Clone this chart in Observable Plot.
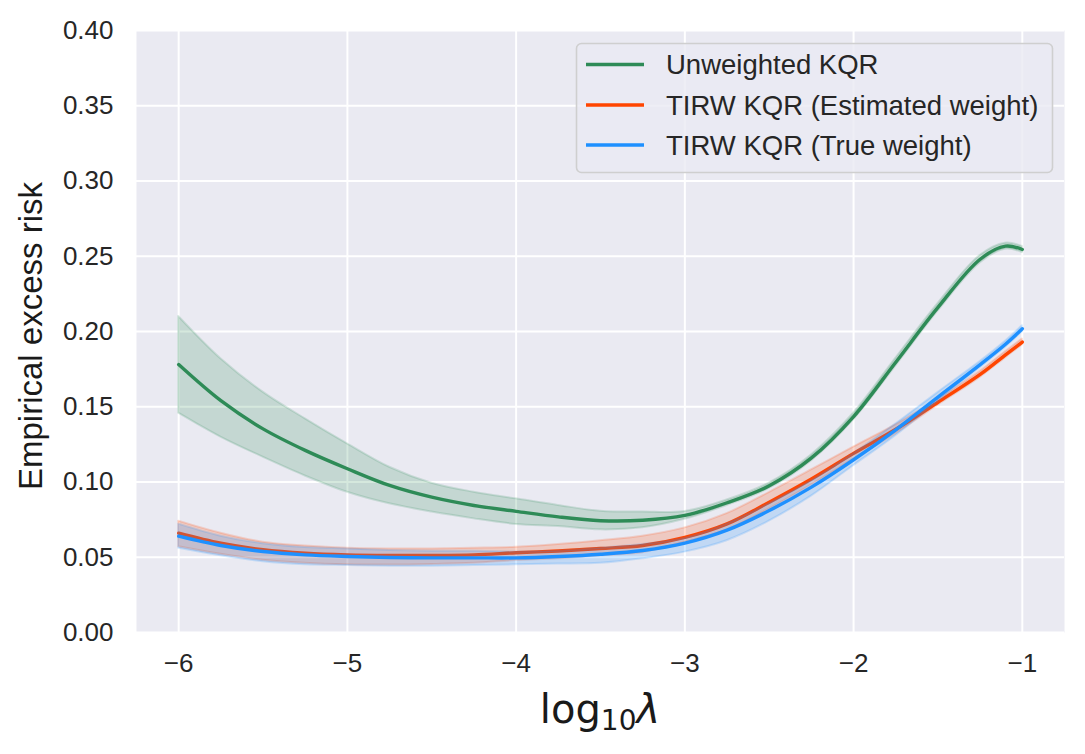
<!DOCTYPE html>
<html>
<head>
<meta charset="utf-8">
<script src="https://cdn.jsdelivr.net/npm/d3@7"></script>
<script src="https://cdn.jsdelivr.net/npm/@observablehq/plot@0.6"></script>
<style>
  html, body { margin: 0; padding: 0; background: #ffffff; }
  #chart { width: 1085px; height: 754px; }
</style>
</head>
<body>
<div id="chart"></div>
<script>
// ---- data ----
const lambdas = [-6, -5.75, -5.5, -5.25, -5, -4.75, -4.5, -4.25, -4, -3.75, -3.5, -3.25, -3, -2.75, -2.5, -2.25, -2, -1.75, -1.5, -1.25, -1.1, -1];

const unweightedMean  = [0.178, 0.154, 0.1353, 0.121, 0.1088, 0.0977, 0.0899, 0.0844, 0.0805, 0.0768, 0.0743, 0.0746, 0.0778, 0.0862, 0.0975, 0.116, 0.1435, 0.1796, 0.216, 0.248, 0.2567, 0.2545];
const unweightedUpper = [0.210, 0.1819, 0.1597, 0.142, 0.1254, 0.1098, 0.0992, 0.0932, 0.0888, 0.0844, 0.0806, 0.080, 0.0804, 0.0880, 0.0993, 0.118, 0.1457, 0.1822, 0.2185, 0.2505, 0.2587, 0.2565];
const unweightedLower = [0.1457, 0.1298, 0.1165, 0.104, 0.0932, 0.0855, 0.080, 0.0755, 0.0718, 0.0704, 0.0682, 0.0696, 0.0752, 0.0844, 0.0957, 0.114, 0.1413, 0.177, 0.2135, 0.2455, 0.2547, 0.2525];

const estimatedMean  = [0.066, 0.0593, 0.055, 0.0527, 0.0516, 0.0512, 0.0512, 0.0516, 0.053, 0.0542, 0.0558, 0.0578, 0.0632, 0.0722, 0.0866, 0.102, 0.119, 0.1350, 0.153, 0.1715, 0.1845, 0.193];
const estimatedUpper = [0.074, 0.066, 0.060, 0.0575, 0.056, 0.0555, 0.0555, 0.056, 0.0567, 0.0585, 0.061, 0.064, 0.0695, 0.079, 0.093, 0.108, 0.1232, 0.138, 0.155, 0.1735, 0.1865, 0.195];
const estimatedLower = [0.057, 0.052, 0.048, 0.046, 0.045, 0.0448, 0.0452, 0.046, 0.0478, 0.049, 0.051, 0.053, 0.060, 0.068, 0.082, 0.098, 0.115, 0.132, 0.151, 0.1695, 0.1825, 0.191];

const trueMean  = [0.064, 0.0578, 0.0538, 0.0516, 0.0505, 0.0498, 0.0496, 0.0496, 0.0496, 0.0505, 0.052, 0.0545, 0.0594, 0.068, 0.081, 0.0966, 0.1148, 0.1347, 0.1564, 0.178, 0.1915, 0.2018];
const trueUpper = [0.072, 0.064, 0.059, 0.0565, 0.0555, 0.0545, 0.054, 0.054, 0.0535, 0.054, 0.056, 0.0585, 0.0624, 0.072, 0.0855, 0.1006, 0.1188, 0.1385, 0.1594, 0.180, 0.1935, 0.2038];
const trueLower = [0.056, 0.051, 0.047, 0.045, 0.0445, 0.044, 0.044, 0.0445, 0.045, 0.0455, 0.046, 0.049, 0.0534, 0.061, 0.074, 0.0906, 0.1108, 0.1307, 0.1534, 0.176, 0.1895, 0.1998];

const seriesNames  = ["Unweighted KQR", "TIRW KQR (Estimated weight)", "TIRW KQR (True weight)"];
const seriesColors = ["#2E8B57", "#FF4500", "#1E90FF"];

const xTicks = [-6, -5, -4, -3, -2, -1];
const xTickLabels = ["−6", "−5", "−4", "−3", "−2", "−1"];
const yTicks = [0, 0.05, 0.10, 0.15, 0.20, 0.25, 0.30, 0.35, 0.40];
const yTickLabels = ["0.00", "0.05", "0.10", "0.15", "0.20", "0.25", "0.30", "0.35", "0.40"];

const yLabel = "Empirical excess risk";

// ---- build tables ----
const groups = [
  [unweightedMean, unweightedLower, unweightedUpper],
  [estimatedMean, estimatedLower, estimatedUpper],
  [trueMean, trueLower, trueUpper]
];
const tables = groups.map(([m, lo, hi], k) =>
  lambdas.map((x, i) => ({x, mean: m[i], lo: lo[i], hi: hi[i], series: seriesNames[k]}))
);

const curve = "catmull-rom";
const marks = [
  Plot.frame({fill: "#EAEAF2", stroke: null}),
  Plot.gridX(xTicks, {stroke: "#ffffff", strokeOpacity: 1, strokeWidth: 2}),
  Plot.gridY(yTicks, {stroke: "#ffffff", strokeOpacity: 1, strokeWidth: 2}),
];
tables.forEach((t, k) => {
  marks.push(Plot.areaY(t, {x: "x", y1: "lo", y2: "hi", fill: seriesColors[k], fillOpacity: 0.2,
    stroke: seriesColors[k], strokeOpacity: 0.18, strokeWidth: 2, curve}));
  marks.push(Plot.lineY(t, {x: "x", y: "mean", stroke: seriesColors[k], strokeWidth: 3.4, curve}));
});
marks.push(Plot.axisX(xTicks, {tickSize: 0, tickPadding: 21, fontSize: 26, label: null,
  tickFormat: (d) => xTickLabels[xTicks.indexOf(d)], fill: "#262626"}));
marks.push(Plot.axisY(yTicks, {tickSize: 0, tickPadding: 23, fontSize: 26, label: null,
  tickFormat: (d) => yTickLabels[yTicks.indexOf(d)], fill: "#262626"}));

const chart = Plot.plot({
  width: 1085,
  height: 754,
  marginLeft: 136,
  marginRight: 21,
  marginTop: 30,
  marginBottom: 122,
  style: {fontFamily: "'Liberation Sans', Arial, sans-serif", background: "#ffffff", color: "#262626"},
  x: {domain: [-6.25, -0.75]},
  y: {domain: [0, 0.4]},
  marks
});
document.getElementById("chart").appendChild(chart);

// ---- labels & legend ----
const svg = d3.select(chart);

svg.append("text")
  .attr("transform", "translate(42,336) rotate(-90)")
  .attr("text-anchor", "middle")
  .attr("font-family", "'Liberation Sans', Arial, sans-serif")
  .attr("font-size", 33)
  .attr("fill", "#1a1a1a")
  .text(yLabel);

const xl = svg.append("text")
  .attr("x", 600).attr("y", 723)
  .attr("text-anchor", "middle")
  .attr("font-family", "'DejaVu Sans', sans-serif")
  .attr("font-size", 40)
  .attr("fill", "#1a1a1a");
xl.append("tspan").text("log");
xl.append("tspan").attr("font-size", 28).attr("dy", 6.5).text("10");
xl.append("tspan").attr("dy", -6.5).attr("font-style", "italic").text("λ");

const lg = svg.append("g").attr("text-anchor", "start");
lg.append("rect")
  .attr("x", 576.5).attr("y", 43.5).attr("width", 476).attr("height", 129).attr("rx", 5)
  .attr("fill", "#EAEAF2").attr("fill-opacity", 0.8)
  .attr("stroke", "#cfcfcf").attr("stroke-width", 1.6);
const rowY = [64.5, 105, 145];
seriesNames.forEach((name, k) => {
  lg.append("line")
    .attr("x1", 586).attr("x2", 644).attr("y1", rowY[k]).attr("y2", rowY[k])
    .attr("stroke", seriesColors[k]).attr("stroke-width", 3.4);
  lg.append("text")
    .attr("x", 666).attr("y", rowY[k]).attr("dy", "0.36em")
    .attr("text-anchor", "start")
    .attr("font-family", "'Liberation Sans', Arial, sans-serif")
    .attr("font-size", 27.5)
    .attr("fill", "#262626")
    .text(name);
});
</script>
</body>
</html>
